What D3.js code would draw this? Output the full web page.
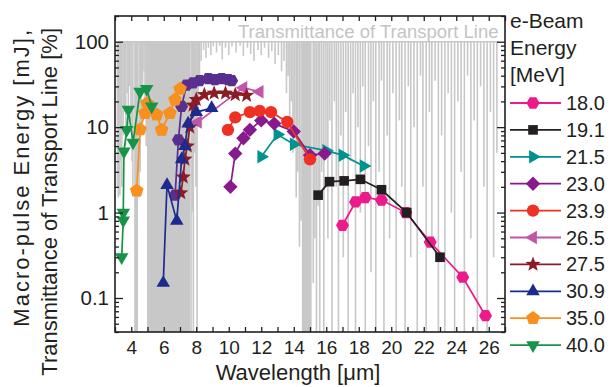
<!DOCTYPE html>
<html>
<head>
<meta charset="utf-8">
<script src="https://cdn.jsdelivr.net/npm/d3@7/dist/d3.min.js"></script>
<style>
  body { margin: 0; background: #fff; }
  svg { display: block; font-family: Arial, "Liberation Sans", Helvetica, sans-serif; }
</style>
</head>
<body>
<svg id="chart" width="611" height="387"></svg>
<script>
// e-beam energies shown in the legend [MeV]
const energies = ['18.0', '19.1', '21.5', '23.0', '23.9', '26.5', '27.5', '30.9', '35.0', '40.0'];

// macro-pulse energy [mJ] vs wavelength [um], one array per e-beam energy
const e180 = [[17.0, 0.71], [17.8, 1.33], [18.4, 1.5], [19.4, 1.4], [20.9, 1.0], [22.4, 0.45], [24.4, 0.175], [25.8, 0.062]];
const e191 = [[15.5, 1.6], [16.2, 2.3], [17.1, 2.35], [18.1, 2.45], [19.4, 1.85], [20.95, 1.0], [23.0, 0.30]];
const e215 = [[12.0, 4.5], [13.0, 8.2], [14.0, 6.3], [16.0, 5.3], [17.0, 4.7], [18.3, 3.5]];
const e230 = [[10.1, 2.0], [10.4, 4.9], [10.9, 7.4], [11.3, 9.3], [12.0, 12.0], [12.8, 11.0], [14.0, 8.9], [15.0, 4.7], [15.9, 4.9]];
const e239 = [[9.95, 9.3], [10.4, 13.0], [11.3, 15.0], [11.9, 15.5], [12.6, 15.0], [13.6, 11.5], [15.0, 4.2]];
const e265 = [[8.1, 11.5], [10.9, 29.0], [11.9, 26.0]];
const e275 = [[7.05, 1.7], [7.2, 2.6], [7.3, 4.2], [7.45, 6.0], [7.6, 10.0], [7.8, 18.0], [8.0, 21.0], [8.5, 24.0], [9.1, 25.0], [9.8, 25.0], [10.4, 24.0], [11.1, 23.5]];
const e309 = [[5.97, 0.15], [6.2, 2.1], [6.8, 0.8], [7.1, 4.2], [7.3, 6.0], [7.5, 11.0], [8.0, 15.0], [8.95, 16.7]];
const e350 = [[4.34, 1.8], [4.54, 9.4], [4.85, 14.6], [4.97, 19.0], [5.57, 14.0], [5.87, 9.3], [6.38, 14.6], [6.69, 21.0], [7.0, 28.0]];
const e400 = [[3.41, 0.30], [3.51, 0.81], [3.51, 1.0], [3.55, 5.2], [3.72, 9.3], [3.82, 16.0], [4.11, 6.6], [4.54, 26.0], [4.95, 28.0], [5.26, 17.5]];
// series drawn in the plot but not listed in the legend
const eExtra = [[6.7, 1.6], [6.9, 7.1], [7.1, 17.5], [7.4, 31.0], [7.8, 33.0], [8.2, 35.0], [8.74, 37.0], [9.15, 36.0], [9.57, 37.0], [9.97, 36.0], [10.18, 35.0]];

// transmittance of transport line [%]
const transSpan = [3.15, 26.6];
const transBands = [[4.18, 4.42], [4.97, 7.62], [14.5, 15.1]];
const transDips = [
  [3.15, 2], [3.2, 1.5], [3.25, 3], [3.3, 1.6], [3.35, 4], [3.42, 2], [3.5, 8], [3.58, 15], [3.66, 6],
  [3.75, 25], [3.82, 10], [3.9, 30], [3.98, 12], [4.05, 4], [4.1, 2],
  [4.48, 1.5], [4.55, 3], [4.62, 8], [4.7, 25], [4.78, 45], [4.85, 20], [4.92, 6],
  [7.68, 0.04], [7.75, 1], [7.82, 0.04], [7.9, 5], [7.98, 2], [8.05, 0.04], [8.12, 15], [8.2, 40], [8.3, 60],
  [8.45, 80], [8.6, 65], [8.75, 85], [8.9, 70], [9.05, 88], [9.25, 75], [9.45, 90], [9.6, 62], [9.8, 85],
  [10.0, 70], [10.2, 88], [10.45, 75], [10.7, 90], [10.9, 68], [11.15, 85], [11.35, 72], [11.55, 60],
  [11.8, 80], [12.0, 70], [12.2, 85], [12.45, 65], [12.65, 78], [12.85, 55], [13.05, 70], [13.25, 45], [13.4, 60],
  [13.55, 25], [13.65, 40], [13.75, 12], [13.85, 20], [13.95, 5], [14.05, 8], [14.15, 1.5], [14.25, 3],
  [14.35, 0.4], [14.45, 0.8],
  [15.2, 0.15], [15.3, 0.5], [15.4, 0.04], [15.5, 1.2], [15.6, 0.04], [15.72, 3], [15.85, 0.04], [15.98, 6],
  [16.1, 0.5], [16.22, 12], [16.35, 0.04], [16.5, 20], [16.62, 2], [16.75, 0.04], [16.9, 8], [17.05, 0.3],
  [17.2, 15], [17.35, 0.04], [17.5, 4], [17.65, 25], [17.8, 0.04], [17.95, 10], [18.1, 1], [18.25, 30],
  [18.4, 0.04], [18.6, 6], [18.75, 0.2], [18.9, 20], [19.05, 0.04], [19.25, 3], [19.4, 35], [19.55, 0.04],
  [19.75, 8], [19.9, 0.5], [20.1, 25], [20.3, 0.04], [20.5, 12], [20.65, 2], [20.85, 0.04], [21.05, 30],
  [21.2, 0.3], [21.4, 10], [21.6, 0.04], [21.8, 40], [21.95, 2], [22.15, 0.04], [22.35, 15], [22.5, 0.5],
  [22.7, 35], [22.9, 0.04], [23.1, 8], [23.3, 0.04], [23.5, 25], [23.7, 1], [23.9, 0.04], [24.1, 20],
  [24.3, 3], [24.5, 0.04], [24.7, 40], [24.9, 0.5], [25.1, 12], [25.3, 0.04], [25.5, 30], [25.7, 2],
  [25.9, 0.04], [26.1, 15], [26.3, 0.3], [26.5, 5]
];

const xMajor = [4, 6, 8, 10, 12, 14, 16, 18, 20, 22, 24, 26];
const yMajor = [0.1, 1, 10, 100];

const series = [
  { name: energies[0], data: e180, color: '#ec1a8a', shape: 'hexagon' },
  { name: energies[1], data: e191, color: '#231f20', shape: 'square' },
  { name: energies[2], data: e215, color: '#00928e', shape: 'triRight' },
  { name: energies[3], data: e230, color: '#871a8c', shape: 'diamond' },
  { name: energies[4], data: e239, color: '#ee3124', shape: 'circle' },
  { name: energies[5], data: e265, color: '#c155a9', shape: 'triLeft' },
  { name: energies[6], data: e275, color: '#8b1c25', shape: 'star' },
  { name: energies[7], data: e309, color: '#1d2b8e', shape: 'triUp' },
  { name: energies[8], data: e350, color: '#f7901e', shape: 'pentagon' },
  { name: energies[9], data: e400, color: '#169447', shape: 'triDown' }
];
const extra = { name: '', data: eExtra, color: '#5a2e8f', shape: 'hexagon' };

const margin = { top: 16, right: 106, bottom: 55, left: 115 };
const svgWidth = 611;
const svgHeight = 387;
const width = svgWidth - margin.left - margin.right;
const height = svgHeight - margin.top - margin.bottom;

const svg = d3.select('#chart');
const g = svg.append('g').attr('transform', `translate(${margin.left},${margin.top})`);

const x = d3.scaleLinear().domain([3, 27]).range([0, width]);
const y = d3.scaleLog().domain([0.04, 200]).range([height, 0]);

// marker shapes
function polygon(n, r, rot) {
  const pts = d3.range(n).map(i => {
    const a = rot + i * 2 * Math.PI / n;
    return [r * Math.cos(a), r * Math.sin(a)];
  });
  return 'M' + pts.map(p => p.join(',')).join('L') + 'Z';
}
function shapePath(shape) {
  switch (shape) {
    case 'hexagon': return polygon(6, 6.5, 0);
    case 'square': return polygon(4, 6.8, Math.PI / 4);
    case 'diamond': return polygon(4, 7.2, 0);
    case 'circle': return d3.symbol(d3.symbolCircle, 120)();
    case 'pentagon': return polygon(5, 7.2, -Math.PI / 2);
    case 'triUp': return polygon(3, 7.8, -Math.PI / 2);
    case 'triDown': return polygon(3, 7.8, Math.PI / 2);
    case 'triRight': return polygon(3, 7.8, 0);
    case 'triLeft': return polygon(3, 7.8, Math.PI);
    case 'star': {
      const pts = d3.range(10).map(i => {
        const r = i % 2 === 0 ? 8 : 3.4;
        const a = -Math.PI / 2 + i * Math.PI / 5;
        return [r * Math.cos(a), r * Math.sin(a)];
      });
      return 'M' + pts.map(p => p.join(',')).join('L') + 'Z';
    }
  }
}

// transmittance spectrum
const trans = g.append('g').attr('class', 'trans')
  .attr('stroke', '#c8c8c8').attr('fill', '#c8c8c8');

trans.selectAll('rect')
  .data(transBands)
  .join('rect')
  .attr('x', d => x(d[0]))
  .attr('width', d => x(d[1]) - x(d[0]))
  .attr('y', y(100))
  .attr('height', height - y(100))
  .attr('stroke', 'none');

trans.selectAll('line.dip')
  .data(transDips)
  .join('line')
  .attr('class', 'dip')
  .attr('x1', d => x(d[0]))
  .attr('x2', d => x(d[0]))
  .attr('y1', y(100))
  .attr('y2', d => y(Math.max(d[1], 0.04)))
  .attr('stroke-width', 1.6);

trans.append('line')
  .attr('x1', x(transSpan[0]))
  .attr('x2', x(transSpan[1]))
  .attr('y1', y(100))
  .attr('y2', y(100))
  .attr('stroke-width', 1.4);

g.append('text')
  .attr('x', x(26.6))
  .attr('y', 22)
  .attr('text-anchor', 'end')
  .style('font-size', '18.5px')
  .style('fill', '#c4c4c4')
  .text('Transmittance of Transport Line');

// data series
const line = d3.line().x(d => x(d[0])).y(d => y(d[1]));
const allSeries = [extra].concat(series);

const sg = g.append('g').selectAll('g')
  .data(allSeries)
  .join('g');

sg.append('path')
  .attr('d', d => line(d.data))
  .attr('fill', 'none')
  .attr('stroke', d => d.color)
  .attr('stroke-width', 1.7);

sg.each(function (s) {
  d3.select(this).selectAll('path.mk')
    .data(s.data)
    .join('path')
    .attr('class', 'mk')
    .attr('transform', d => `translate(${x(d[0])},${y(d[1])})`)
    .attr('d', shapePath(s.shape))
    .attr('fill', s.color);
});

// axes
const fmtY = d => (d < 1 ? d3.format('.1f')(d) : d3.format('d')(d));
const yMinor = [];
[0.01, 0.1, 1, 10, 100].forEach(dec => {
  for (let k = 2; k <= 9; k++) {
    const v = dec * k;
    if (v >= 0.04 && v <= 200) yMinor.push(v);
  }
});
const xAll = d3.range(3, 28, 1);

const axisStyle = sel => {
  sel.select('.domain').remove();
  sel.selectAll('line').attr('stroke', '#231f20').attr('stroke-width', 1.3);
  sel.selectAll('text').attr('fill', '#231f20');
};

g.append('g')
  .attr('transform', `translate(0,${height})`)
  .call(d3.axisBottom(x).tickValues(xAll).tickSize(-5).tickPadding(9)
    .tickFormat(d => (xMajor.includes(d) ? d : '')))
  .call(axisStyle)
  .selectAll('text').style('font-size', '19px');

g.append('g')
  .call(d3.axisTop(x).tickValues(xAll).tickSize(-5).tickFormat(''))
  .call(axisStyle);

g.append('g')
  .call(d3.axisLeft(y).tickValues(yMajor).tickSize(-8).tickPadding(6).tickFormat(fmtY))
  .call(axisStyle)
  .selectAll('text').style('font-size', '20.5px');
g.append('g')
  .call(d3.axisLeft(y).tickValues(yMinor).tickSize(-4).tickFormat(''))
  .call(axisStyle);

g.append('g')
  .attr('transform', `translate(${width},0)`)
  .call(d3.axisRight(y).tickValues(yMajor).tickSize(-8).tickFormat(''))
  .call(axisStyle);
g.append('g')
  .attr('transform', `translate(${width},0)`)
  .call(d3.axisRight(y).tickValues(yMinor).tickSize(-4).tickFormat(''))
  .call(axisStyle);

g.append('rect')
  .attr('width', width)
  .attr('height', height)
  .attr('fill', 'none')
  .attr('stroke', '#231f20')
  .attr('stroke-width', 1.6);

// axis titles
svg.append('text')
  .attr('x', 298)
  .attr('y', 380)
  .attr('text-anchor', 'middle')
  .style('font-size', '22px')
  .attr('fill', '#231f20')
  .text('Wavelength [\u03bcm]');

svg.append('text')
  .attr('transform', 'translate(29,28) rotate(-90)')
  .attr('text-anchor', 'end')
  .style('font-size', '22px')
  .style('letter-spacing', '2px')
  .attr('fill', '#231f20')
  .text('Macro-pulse Energy [mJ],');

svg.append('text')
  .attr('transform', 'translate(57,28) rotate(-90)')
  .attr('text-anchor', 'end')
  .style('font-size', '22px')
  .attr('fill', '#231f20')
  .text('Transmittance of Transport Line [%]');

// legend
const legend = svg.append('g').attr('transform', 'translate(510,0)');
['e-Beam', 'Energy', '[MeV]'].forEach((t, i) => {
  legend.append('text')
    .attr('x', 0)
    .attr('y', 28 + i * 27)
    .style('font-size', '21px')
    .attr('fill', '#231f20')
    .text(t);
});

const li = legend.selectAll('g.item')
  .data(series)
  .join('g')
  .attr('class', 'item')
  .attr('transform', (d, i) => `translate(0,${103 + i * 26.9})`);

li.append('line')
  .attr('x1', 0).attr('x2', 51)
  .attr('stroke', d => d.color)
  .attr('stroke-width', 1.8);
li.append('path')
  .attr('transform', 'translate(23,0)')
  .attr('d', d => shapePath(d.shape))
  .attr('fill', d => d.color);
li.append('text')
  .attr('x', 56)
  .attr('y', 7)
  .style('font-size', '20px')
  .attr('fill', '#231f20')
  .text(d => d.name);
</script>
</body>
</html>
